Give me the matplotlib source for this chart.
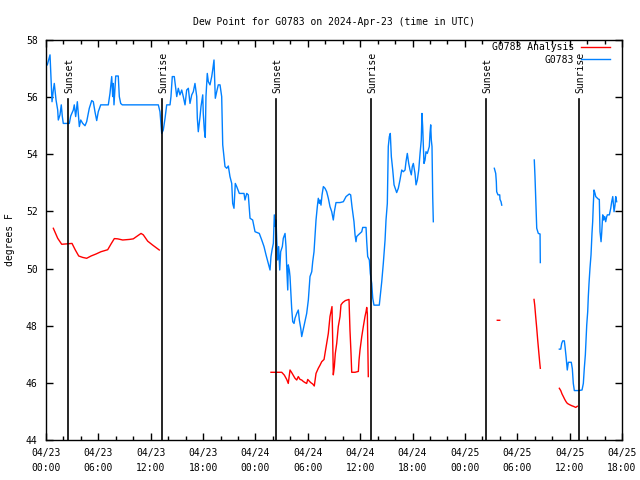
import numpy as np
import matplotlib
matplotlib.use("Agg")
from matplotlib import pyplot as plt
from matplotlib.ticker import MultipleLocator

plt.rcParams['font.family'] = ['DejaVu Sans Mono']
plt.rcParams['font.size'] = 7

# hours since 2024-04-23 00:00 UTC ; nan = gap in data
blue_hours = [0.15, 0.46, 0.69, 0.84, 0.95, 1.15, 1.34, 1.41, 1.60, 1.75, 1.87, 1.98, 2.67, 2.83,
              3.13, 3.24, 3.40, 3.59, 3.82, 3.98, 4.21, 4.47, 4.66, 4.96, 5.24, 5.42, 5.61, 5.81,
              5.99, 6.27, 7.14, 7.33, 7.53, 7.64, 7.71, 7.79, 7.99, 8.28, 8.40, 8.56, 8.74, 12.87,
              13.06, 13.26, 13.44, 13.64, 13.83, 14.21, 14.32, 14.47, 14.70, 14.86, 14.98, 15.16,
              15.35, 15.55, 15.73, 15.93, 16.12, 16.31, 16.50, 16.70, 16.88, 17.07, 17.27, 17.34,
              17.45, 17.65, 17.76, 17.96, 18.02, 18.14, 18.25, 18.33, 18.48, 18.60, 18.79, 18.99,
              19.10, 19.25, 19.40, 19.56, 19.74, 19.94, 20.13, 20.25, 20.51, 20.71, 20.89, 21.08,
              21.28, 21.39, 21.54, 21.69, 21.85, 22.15, 22.69, 22.80, 23.00, 23.18, 23.38, 23.68,
              23.95, 24.44, 24.72, 24.98, 25.21, 25.47, 25.67, 25.78, 25.90, 26.05, 26.16, 26.28,
              26.36, 26.44, 26.55, 26.66, 26.78, 26.89, 27.08, 27.19, 27.39, 27.50, 27.58, 27.70,
              27.76, 27.88, 27.96, 28.04, 28.15, 28.27, 28.42, 28.53, 28.73, 28.91, 29.03, 29.19,
              29.30, 29.42, 29.68, 29.87, 30.06, 30.25, 30.45, 30.56, 30.71, 30.94, 31.09, 31.20,
              31.32, 31.40, 31.51, 31.63, 31.78, 31.97, 32.16, 32.35, 32.54, 32.74, 32.92, 33.04,
              33.23, 33.69, 34.07, 34.38, 34.75, 34.91, 35.06, 35.29, 35.41, 35.52, 35.60, 35.79,
              36.18, 36.29, 36.67, 36.75, 36.86, 37.05, 37.16, 37.32, 37.44, 37.58, 38.19, 38.27,
              38.47, 38.65, 38.85, 38.96, 39.11, 39.16, 39.22, 39.34, 39.45, 39.57, 39.73, 39.88,
              40.18, 40.37, 40.56, 40.76, 40.94, 41.14, 41.25, 41.40, 41.56, 41.71, 41.86, 41.97,
              42.09, 42.28, 42.40, 42.55, 42.71, 42.86, 43.00, 43.08, 43.16, 43.31, 43.43, 43.54,
              43.69, 43.92, 44.00, 44.08, 44.15, 44.23, 44.31, 44.38,
              np.nan,
              51.37, 51.53, 51.60, 51.64, 51.79, 51.99, 52.02, 52.14, 52.22,
              np.nan,
              55.95, 56.03, 56.15, 56.23, 56.41, 56.61, 56.64,
              np.nan,
              58.82, 58.98, 59.09, 59.21, 59.39, 59.47, 59.59, 59.73, 59.85, 60.19, 60.31, 60.42,
              60.54, 61.00, 61.42, 61.57, 61.68, 61.80, 61.96, 62.07, 62.14, 62.22, 62.33, 62.45,
              62.56, 62.64, 62.71, 62.79, 62.91, 62.99, 63.29, 63.40, 63.48, 63.60, 63.67, 63.79,
              63.90, 64.02, 64.13, 64.25, 64.32, 64.55, 64.71, 64.82, 64.94, 65.09, 65.20, 65.28,
              65.39]
blue_dewpt = [57.13, 57.48, 55.84, 56.25, 56.48, 55.90, 55.55, 55.20, 55.38, 55.73, 55.32, 55.08, 55.08, 55.34,
              55.55, 55.73, 55.32, 55.84, 54.97, 55.20, 55.08, 55.00, 55.14, 55.61, 55.88, 55.84, 55.49, 55.18,
              55.49, 55.73, 55.73, 56.13, 56.72, 56.02, 56.48, 55.73, 56.74, 56.74, 56.02, 55.78, 55.73, 55.73,
              55.49, 54.73, 54.85, 55.26, 55.73, 55.73, 56.02, 56.72, 56.72, 56.31, 56.02, 56.31,
              56.08, 56.25, 56.02, 55.73, 56.25, 56.31, 55.78, 56.08, 56.19, 56.48, 56.02, 55.26,
              54.79, 55.32, 55.67, 56.08, 55.43, 54.85, 54.59, 56.02, 56.83, 56.54, 56.43, 56.72,
              56.95, 57.30, 55.96, 56.19, 56.43, 56.43, 56.02, 54.33, 53.57, 53.51, 53.59, 53.22,
              52.98, 52.28, 52.11, 52.98, 52.87, 52.63, 52.63, 52.40, 52.63, 52.58, 51.76, 51.70,
              51.29, 51.23, 51.00, 50.77, 50.48, 50.18, 49.95, 50.42, 50.65, 50.88, 51.88, 51.47,
              51.70, 51.00, 50.30, 50.77, 49.95, 50.59, 50.77, 51.06, 51.23, 50.77, 50.07, 49.25,
              50.13, 49.95, 49.72, 49.25, 48.61, 48.14, 48.08, 48.26, 48.43, 48.55, 48.20, 47.91,
              47.62, 47.79, 48.14, 48.43, 48.90, 49.72, 49.89, 50.24, 50.59, 51.70, 52.17, 52.46,
              52.28, 52.40, 52.22, 52.58, 52.87, 52.81, 52.69, 52.46, 52.17, 51.99, 51.70, 51.99,
              52.31, 52.31, 52.34, 52.52, 52.61, 52.58, 52.17, 51.64, 51.18, 50.94, 51.12, 51.18,
              51.29, 51.44, 51.44, 50.94, 50.42, 50.30, 49.83, 49.48, 48.96, 48.72, 48.72, 48.96,
              49.54, 50.18, 51.00, 51.70, 52.28, 53.22, 54.27, 54.62, 54.73, 53.92, 53.45, 52.93,
              52.66, 52.81, 53.10, 53.45, 53.39, 53.45, 53.74, 54.03, 53.68, 53.45, 53.28, 53.57,
              53.68, 53.33, 52.93, 53.10, 53.45, 54.03, 54.50, 55.43, 54.97, 53.68, 53.80, 54.09,
              54.03, 54.27, 54.73, 55.03, 54.50, 54.27, 52.52, 51.64,
              np.nan,
              53.51, 53.33, 53.04, 52.69, 52.58, 52.58, 52.42, 52.34, 52.22,
              np.nan,
              53.80, 53.22, 52.11, 51.41, 51.23, 51.21, 50.21,
              np.nan,
              47.18, 47.18, 47.38, 47.47, 47.47, 47.27, 46.92, 46.45, 46.72, 46.72, 46.49, 45.98,
              45.73, 45.73, 45.75, 45.98, 46.51, 46.98, 48.03, 48.49, 49.02, 49.48, 50.01, 50.48,
              51.23, 51.64, 52.22, 52.75, 52.63, 52.52, 52.43, 52.42, 51.29, 50.94, 51.23, 51.88,
              51.70, 51.82, 51.64, 51.82, 51.88, 51.88, 52.11, 52.34, 52.52, 51.99, 52.22, 52.52,
              52.34]

red_hours = [0.84, 1.34, 1.80, 2.98, 3.36, 3.75, 4.21, 4.66, 5.16, 5.73, 6.30, 7.07, 7.45, 7.83,
             8.22, 8.79, 9.55, 10.00, 10.51, 10.89, 11.15, 11.65, 12.23, 12.98,
             np.nan,
             25.78, 27.01, 27.31, 27.58, 27.76, 27.96, 28.15, 28.34, 28.53, 28.73, 28.91, 29.11,
             29.30, 29.48, 29.68, 29.87, 29.99, 30.17, 30.33, 30.56, 30.74, 30.94, 31.20, 31.40,
             31.59, 31.86, 31.97, 32.16, 32.35, 32.54, 32.77, 32.85, 32.92, 33.04, 33.15, 33.31,
             33.49, 33.69, 33.80, 34.00, 34.30, 34.72, 34.83, 34.95, 35.03, 35.41, 35.79, 35.87,
             35.98, 36.18, 36.36, 36.55, 36.67, 36.75, 36.82, 36.93,
             np.nan,
             51.71, 51.99,
             np.nan,
             55.92, 56.00, 56.11, 56.23, 56.34, 56.46, 56.57, 56.64,
             np.nan,
             58.82, 58.98, 59.13, 59.28, 59.44, 59.59, 59.74, 59.97, 60.24, 60.50, 60.70, 60.88]
red_dewpt = [51.41, 51.06, 50.85, 50.88, 50.65, 50.44, 50.39, 50.36, 50.44, 50.51, 50.59, 50.66, 50.86, 51.05,
             51.04, 51.00, 51.02, 51.04, 51.15, 51.23, 51.18, 50.96, 50.82, 50.65,
             np.nan,
             46.37, 46.37, 46.27, 46.12, 45.98, 46.45, 46.36, 46.26, 46.16, 46.10, 46.22, 46.12,
             46.10, 46.05, 46.01, 45.98, 46.12, 46.06, 46.01, 45.96, 45.89, 46.33, 46.51, 46.62,
             46.74, 46.82, 47.03, 47.38, 47.73, 48.32, 48.67, 47.50, 46.28, 46.57, 47.03, 47.38,
             47.97, 48.32, 48.73, 48.81, 48.88, 48.92, 47.85, 47.03, 46.37, 46.37, 46.40, 46.80,
             47.15, 47.62, 47.97, 48.32, 48.49, 48.64, 48.43, 46.22,
             np.nan,
             48.19, 48.19,
             np.nan,
             48.92, 48.72, 48.32, 47.91, 47.50, 47.09, 46.72, 46.51,
             np.nan,
             45.81, 45.73, 45.61, 45.52, 45.42, 45.34, 45.28, 45.24, 45.20, 45.17, 45.14, 45.18]

sun_hours = [2.49, 13.33, 26.39, 37.28, 50.46, 61.11]
sun_labels = ["Sunset", "Sunrise", "Sunset", "Sunrise", "Sunset", "Sunrise"]

tick_hours = [0, 6, 12, 18, 24, 30, 36, 42, 48, 54, 60, 66]
tick_labels = ["04/23\n00:00", "04/23\n06:00", "04/23\n12:00", "04/23\n18:00",
               "04/24\n00:00", "04/24\n06:00", "04/24\n12:00", "04/24\n18:00",
               "04/25\n00:00", "04/25\n06:00", "04/25\n12:00", "04/25\n18:00"]

fig = plt.figure(figsize=(6.4, 4.8), dpi=100)
ax = fig.add_axes([46/640, 40/480, 576/640, 400/480])

ax.plot(red_hours, red_dewpt, color='#ff0000', lw=1.0, label='G0783 Analysis')
ax.plot(blue_hours, blue_dewpt, color='#0080ff', lw=1.0, label='G0783')

# sunrise / sunset markers
for h, s in zip(sun_hours, sun_labels):
    ax.plot([h, h], [44, 55.93], color='black', lw=1.2)
    ax.text(h + 0.15, 56.15, s, rotation=90, ha='center', va='bottom', fontsize=7)

ax.set_xlim(0, 66)
ax.set_ylim(44, 58)
ax.set_xticks(tick_hours)
ax.set_xticklabels(tick_labels, linespacing=1.6)
ax.xaxis.set_minor_locator(MultipleLocator(2))
ax.yaxis.set_major_locator(MultipleLocator(2))
ax.tick_params(which='both', direction='in', top=True, right=True)
ax.tick_params(which='major', length=5, width=1, pad=6)
ax.tick_params(which='minor', length=3, width=1)
for sp in ax.spines.values():
    sp.set_linewidth(1.0)

ax.set_ylabel('degrees F')
ax.yaxis.set_label_coords(-31/576, 0.5)
ax.set_title('Dew Point for G0783 on 2024-Apr-23 (time in UTC)', fontsize=7, pad=11)

ax.legend(loc='upper right', bbox_to_anchor=(0.986, 1.004), frameon=False, markerfirst=False,
          handlelength=3, handletextpad=0.7, labelspacing=0.25, borderaxespad=0, fontsize=7)

fig.savefig('out.png', dpi=100)
